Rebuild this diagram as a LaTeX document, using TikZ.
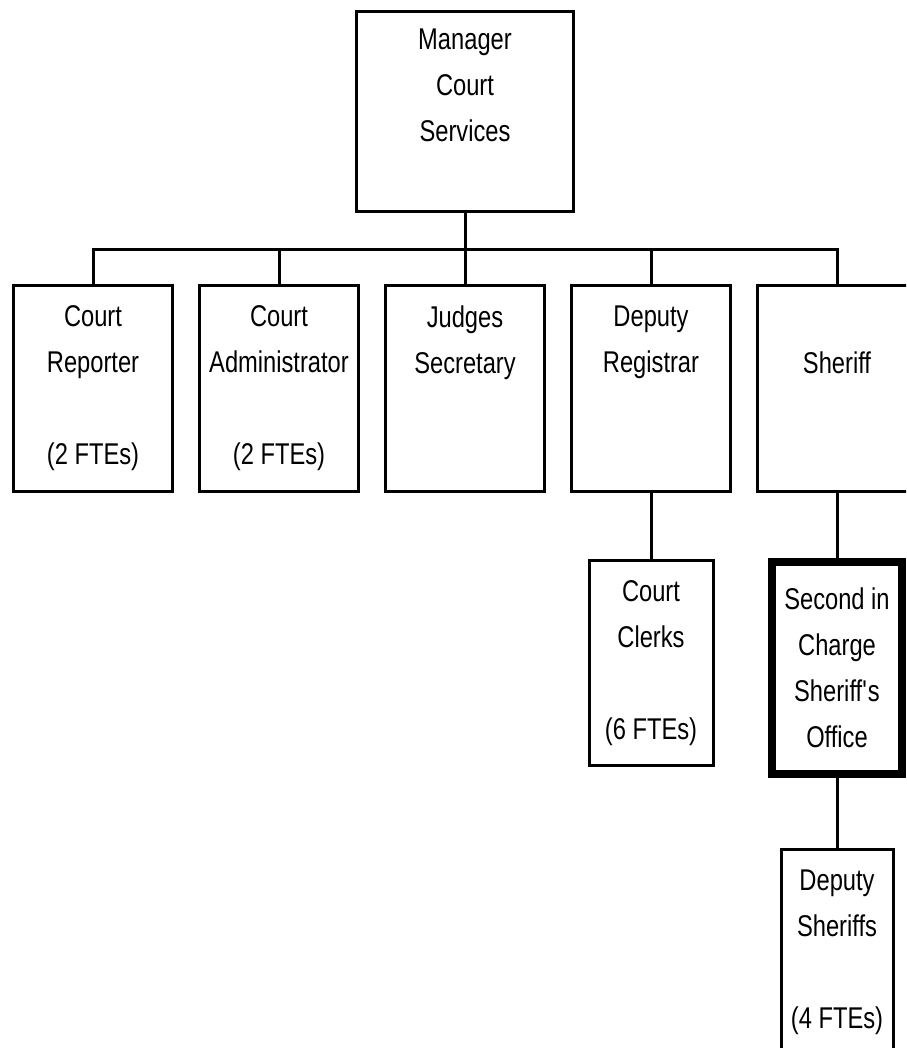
\documentclass[tikz,border=0pt]{standalone}
\usepackage{fontspec}
\setmainfont[FakeStretch=0.79]{Liberation Sans}
\usetikzlibrary{positioning}
\tikzstyle{unit}=[draw,fill=white,line width=3pt,align=center,inner sep=0pt,font=\fontsize{30}{46}\selectfont]
\tikzstyle{lead}=[unit,line width=8pt]
\tikzstyle{link}=[draw,line width=3pt,-]
\newcommand{\gapline}{\phantom{(}}

\begin{document}
\begin{tikzpicture}[x=1pt,y=-1pt]
    % Page frame
    \fill[white,use as bounding box] (0,0) rectangle (906,1048);
    \clip (0,0) rectangle (906,1048);

    % First we draw the boxes
    \node[unit,minimum width=217pt,minimum height=200pt] (mgr) at (465,111.5) {Manager\\Court\\Services\\\gapline};
    \foreach \x/\name/\txt in {93/rep/{Court\\Reporter\\\gapline\\(2 FTEs)}, 279/adm/{Court\\Administrator\\\gapline\\(2 FTEs)},
        465/sec/{Judges\\Secretary\\\gapline\\\gapline}, 651/reg/{Deputy\\Registrar\\\gapline\\\gapline}, 837/shf/{\gapline\\Sheriff\\\gapline\\\gapline}}
        \node[unit,minimum width=159pt,minimum height=206pt] (\name) at (\x,388.5) {\txt};
    \node[unit,minimum width=124pt,minimum height=205pt] (clk) at (651,663) {Court\\Clerks\\\gapline\\(6 FTEs)};
    \node[lead,minimum width=130pt,minimum height=212pt] (snd) at (837,668) {Second in\\Charge\\Sheriff\textquotesingle s\\Office};
    \node[unit,minimum width=112pt,minimum height=206pt] (dep) at (837,952.5) {Deputy\\Sheriffs\\\gapline\\(4 FTEs)};

    % Connect boxes with lines
    \coordinate (bar) at (465,250);
    \path[link] (mgr) -- (sec);
    \foreach \name in {rep,adm,reg,shf}
        \path[link] (\name.north) |- (bar);
    \foreach \source/\dest in {reg/clk, shf/snd, snd/dep}
        \path[link] (\source) -- (\dest);
\end{tikzpicture}
\end{document}
